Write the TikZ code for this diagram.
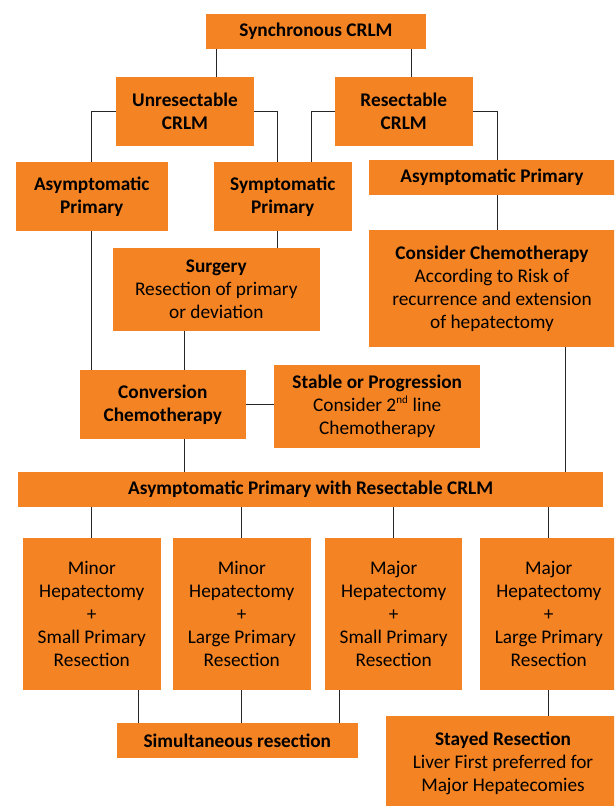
\documentclass[tikz,border=0pt]{standalone}
\usepackage{fontspec}
\setmainfont{Carlito}
\usepackage{tikz}
\definecolor{crlmorange}{RGB}{244,131,36}
\tikzstyle{box}=[fill=crlmorange, inner sep=0pt, align=center, font=\fontsize{19.3}{23}\selectfont]
\tikzstyle{link}=[draw=black!85, line width=0.9pt]

\begin{document}
\begin{tikzpicture}[x=1pt, y=-1pt]
            \clip (0, 0) rectangle (614, 806);
            \node[box, minimum width=220, minimum height=34.7] (sync) at (316, 31.3) {\textbf{Synchronous CRLM}};
            \node[box, minimum width=138, minimum height=68.7] (unres) at (185, 111.3) {\textbf{Unresectable}\\\textbf{CRLM}};
            \node[box, minimum width=137.6, minimum height=68.7] (res) at (403.8, 111.3) {\textbf{Resectable}\\\textbf{CRLM}};
            \node[box, minimum width=151.6, minimum height=68.7] (asyml) at (91.8, 196.3) {\textbf{Asymptomatic}\\\textbf{Primary}};
            \node[box, minimum width=137.6, minimum height=68.7] (symp) at (282.8, 196.3) {\textbf{Symptomatic}\\\textbf{Primary}};
            \node[box, minimum width=246, minimum height=34.4] (asymr) at (492, 177.5) {\textbf{Asymptomatic Primary}};
            \node[box, minimum width=246, minimum height=116.4] (chemo) at (492, 288.5) {\textbf{Consider Chemotherapy}\\According to Risk of\\recurrence and extension\\of hepatectomy};
            \node[box, minimum width=206.5, minimum height=82.7] (surg) at (216.3, 289.3) {\textbf{Surgery}\\Resection of primary\\or deviation};
            \node[box, minimum width=165.5, minimum height=68.7] (conv) at (162.8, 404.3) {\textbf{Conversion}\\\textbf{Chemotherapy}};
            \node[box, minimum width=206.4, minimum height=82.7] (stable) at (377.2, 406.3) {\textbf{Stable or Progression}\\Consider 2\textsuperscript{\fontsize{11}{11}\selectfont nd} line\\Chemotherapy};
            \node[box, minimum width=585.4, minimum height=34.7] (wide) at (310.7, 489.3) {\textbf{Asymptomatic Primary with Resectable CRLM}};
            \node[box, minimum width=137.5, minimum height=151.7] (hepa) at (91.8, 613.8) {Minor\\Hepatectomy\\+\\Small Primary\\Resection};
            \node[box, minimum width=137.5, minimum height=151.7] (hepb) at (241.8, 613.8) {Minor\\Hepatectomy\\+\\Large Primary\\Resection};
            \node[box, minimum width=137.5, minimum height=151.7] (hepc) at (393.7, 613.8) {Major\\Hepatectomy\\+\\Small Primary\\Resection};
            \node[box, minimum width=137.5, minimum height=151.7] (hepd) at (548.8, 613.8) {Major\\Hepatectomy\\+\\Large Primary\\Resection};
            \node[box, minimum width=240.5, minimum height=34.4] (simul) at (237.3, 740.5) {\textbf{Simultaneous resection}};
            \node[box, minimum width=234, minimum height=94] (stayed) at (503, 763) {\textbf{Stayed Resection}\\Liver First preferred for\\Major Hepatecomies};

            % upper tree
            \draw[link] ([xshift=11pt]sync.south west) -- ([xshift=11pt]sync.south west |- unres.north);
            \draw[link] ([xshift=-14.5pt]sync.south east) -- ([xshift=-14.5pt]sync.south east |- res.north);
            \draw[link] (unres.west) -| (asyml.north);
            \draw[link] (unres.east) -| ([xshift=-5.2pt]symp.north);
            \draw[link] (res.west) -| ([xshift=28.2pt]symp.north);
            \draw[link] (res.east) -| ([xshift=5pt]asymr.north);
            \draw[link] ([xshift=5pt]asymr.south) -- ([xshift=5pt]asymr.south |- chemo.north);
            \draw[link] (asyml.south) -- (asyml.south |- conv.north);
            \draw[link] ([xshift=-5.2pt]symp.south) -- ([xshift=-5.2pt]symp.south |- surg.north);
            \draw[link] ([xshift=-31.5pt]surg.south) -- ([xshift=-31.5pt]surg.south |- conv.north);
            \draw[link] (conv.east) -- (conv.east -| stable.west);
            \draw[link] ([xshift=22pt]conv.south) -- ([xshift=22pt]conv.south |- wide.north);
            \draw[link] ([xshift=73.4pt]chemo.south) -- ([xshift=73.4pt]chemo.south |- wide.north);

            % lower tree
            \draw[link] (hepa.north |- wide.south) -- (hepa.north);
            \draw[link] (hepb.north |- wide.south) -- (hepb.north);
            \draw[link] (hepc.north |- wide.south) -- (hepc.north);
            \draw[link] (hepd.north |- wide.south) -- (hepd.north);
            \draw[link] ([xshift=46.8pt]hepa.south) -- ([xshift=46.8pt]hepa.south |- simul.north);
            \draw[link] (hepb.south) -- (hepb.south |- simul.north);
            \draw[link] ([xshift=-53.8pt]hepc.south) -- ([xshift=-53.8pt]hepc.south |- simul.north);
            \draw[link] (hepd.south) -- (hepd.south |- stayed.north);
        \end{tikzpicture}
\end{document}
